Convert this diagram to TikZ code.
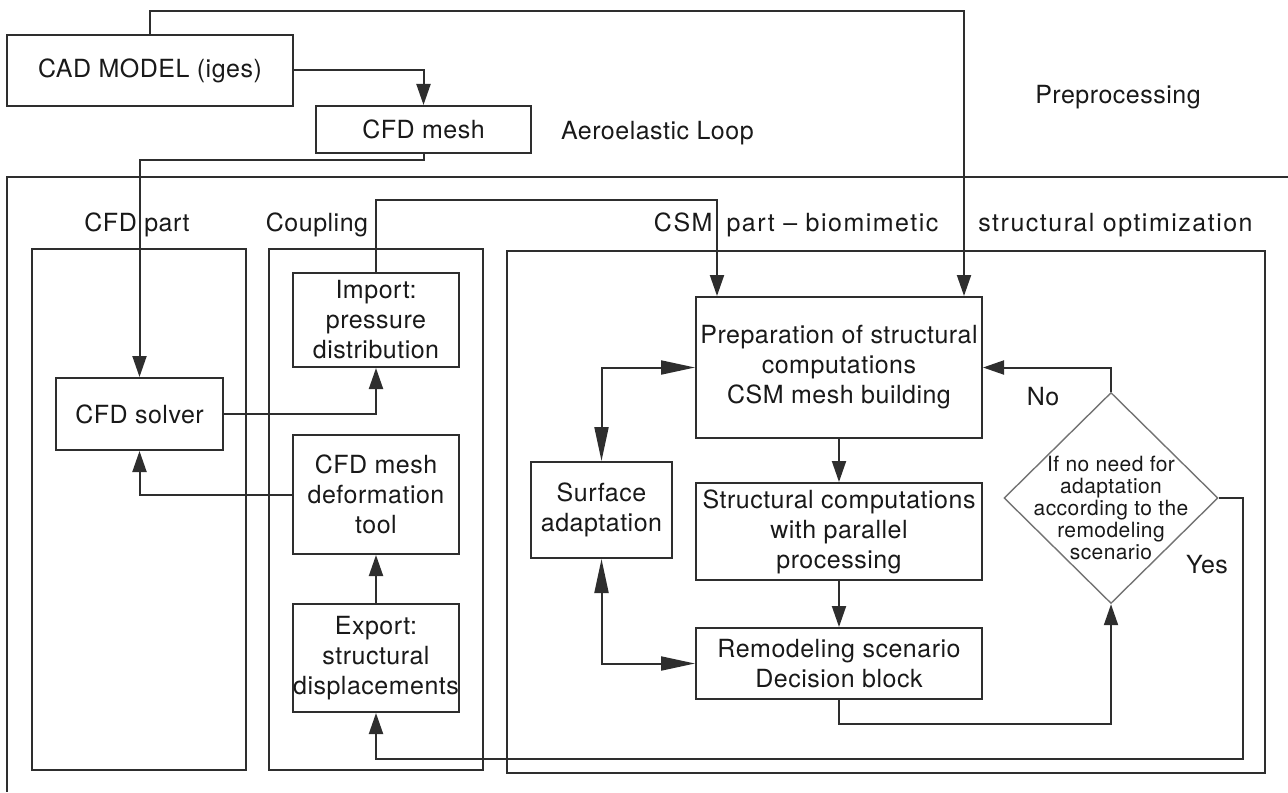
\documentclass[tikz,border=0pt]{standalone}
\usepackage{fontspec}
\setmainfont{TeX Gyre Heros}[LetterSpace=2]
\usetikzlibrary{arrows.meta,shapes.geometric}
\definecolor{linegray}{HTML}{2E2E2E}

\begin{document}
\begin{tikzpicture}[x=0.5pt, y=-0.5pt,
	every node/.style={text=black!90, font=\fontsize{12.5}{15}\selectfont},
	box/.style={draw=linegray, line width=1pt, align=center, inner sep=0pt},
	frame/.style={draw=linegray, line width=1pt},
	arr/.style={draw=linegray, line width=1pt, -{Triangle[length=10.5pt,width=7pt]}},
	twoway/.style={draw=linegray, line width=1pt,
		{Triangle[length=17pt,width=7pt]}-{Triangle[length=17pt,width=7pt]}},
	decision/.style={draw=black!55, line width=0.7pt, diamond, inner sep=0pt,
		minimum width=107pt, minimum height=105.5pt},
	dectext/.style={align=center, font=\fontsize{10.5}{11}\selectfont}]
	\useasboundingbox (0,0) rectangle (1288,792);

	% Frames of the loop and its three parts
	\draw[frame] (1288,177) -- (7,177) -- (7,792);
	\draw[frame] (32,249) rectangle (246,770);
	\draw[frame] (269,249) rectangle (483,770);
	\draw[frame] (507,251) rectangle (1265,773);

	% Frame labels
	\node (lpre) at (1118,97) {Preprocessing};
	\node[anchor=west] (lloop) at (554,133) {Aeroelastic Loop};
	\node (lcfd) at (137,225) {CFD part};
	\node (lcoup) at (317,225) {Coupling};
	\node[anchor=east, inner sep=0pt] (lcsm) at (1253,225)
		{\addfontfeature{LetterSpace=6}CSM\hspace{7pt}part -- biomimetic\hspace{20pt}structural optimization};

	% Preprocessing boxes
	\node[box, minimum width=143pt, minimum height=35.5pt] (cad) at (150,70.5) {CAD MODEL (iges)};
	\node[box, minimum width=107.5pt, minimum height=23.5pt] (mesh) at (423.5,129.5) {CFD mesh};

	% CFD part and coupling
	\node[box, minimum width=83.5pt, minimum height=36pt] (solver) at (139.5,414) {CFD solver};
	\node[box, minimum width=83pt, minimum height=47pt] (import) at (376,320) {Import:\\pressure\\distribution};
	\node[box, minimum width=83pt, minimum height=59.5pt] (deform) at (376,494.5) {CFD mesh\\deformation\\tool};
	\node[box, minimum width=83pt, minimum height=54pt] (export) at (376,658) {Export:\\structural\\displacements};

	% CSM part
	\node[box, minimum width=143pt, minimum height=70.5pt] (prep) at (839,367.5) {Preparation of structural\\computations\\CSM mesh building};
	\node[box, minimum width=143pt, minimum height=48.5pt] (struct) at (839,531.5) {Structural computations\\with parallel\\processing};
	\node[box, minimum width=143pt, minimum height=35.5pt] (remodel) at (839,663.5) {Remodeling scenario\\Decision block};
	\node[box, minimum width=70.5pt, minimum height=48pt] (surface) at (601.5,510) {Surface\\adaptation};
	\node[decision] (dec) at (1111,498) {};
	\node[dectext] (dect) at (1111,508) {If no need for\\adaptation\\according to the\\remodeling\\scenario};
	\node (lno) at (1043,397) {No};
	\node (lyes) at (1207,565) {Yes};

	% Connectors
	\draw[arr] (cad.north) -- ++(0,-23) -| ([xshift=62.5pt]prep.north);
	\draw[arr] (cad.east) -| (mesh.north);
	\draw[arr] (mesh.south) -- ++(0,6) -| (solver.north);
	\draw[arr] (import.north) -- ++(0,-72) -| ([xshift=-61pt]prep.north);
	\draw[arr] (solver.east) -| (import.south);
	\draw[arr] (deform.west) -| (solver.south);
	\draw[arr] (export) -- (deform);
	\draw[arr] (prep) -- (struct);
	\draw[arr] (struct) -- (remodel);
	\draw[twoway] (prep.west) -| (surface.north);
	\draw[twoway] (surface.south) |- (remodel.west);
	\draw[arr] (remodel.south) -- ++(0,24) -| (dec.south);
	\draw[arr] (dec.north) |- (prep.east);
	\draw[arr] (dec.east) -- ++(24,0) -- ++(0,261) -| (export.south);
\end{tikzpicture}
\end{document}
